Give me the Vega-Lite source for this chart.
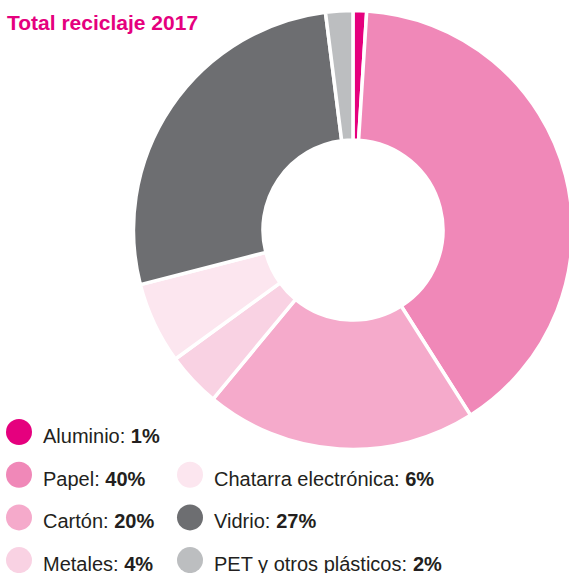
{
  "$schema": "https://vega.github.io/schema/vega-lite/v6.json",
  "width": 569,
  "height": 573,
  "autosize": {"type": "none"},
  "padding": 0,
  "background": "white",
  "title": {
    "text": "Total reciclaje 2017",
    "anchor": "start",
    "frame": "group",
    "baseline": "alphabetic",
    "font": "'Liberation Sans', Arial, sans-serif",
    "fontSize": 21,
    "fontWeight": "bold",
    "color": "#e5007e",
    "dx": 7,
    "dy": 23,
    "offset": -28
  },
  "config": {"view": {"stroke": null}},
  "data": {
    "values": [
      {"cat": "Aluminio", "pct": 1, "ord": 1, "col": 0, "row": 0},
      {"cat": "Papel", "pct": 40, "ord": 2, "col": 0, "row": 1},
      {"cat": "Cartón", "pct": 20, "ord": 3, "col": 0, "row": 2},
      {"cat": "Metales", "pct": 4, "ord": 4, "col": 0, "row": 3},
      {"cat": "Chatarra electrónica", "pct": 6, "ord": 5, "col": 1, "row": 1},
      {"cat": "Vidrio", "pct": 27, "ord": 6, "col": 1, "row": 2},
      {"cat": "PET y otros plásticos", "pct": 2, "ord": 7, "col": 1, "row": 3}
    ]
  },
  "transform": [
    {"calculate": "datum.cat + ': '", "as": "label"},
    {"calculate": "datum.pct + '%'", "as": "val"},
    {"calculate": "(556*length(datum.label) - 334*(length(datum.label)-length(replace(datum.label, regexp('[ijlí]','g'), ''))) - 278*(length(datum.label)-length(replace(datum.label, regexp('[tf: ]','g'), ''))) - 223*(length(datum.label)-length(replace(datum.label, regexp('r','g'), ''))) - 56*(length(datum.label)-length(replace(datum.label, regexp('[cksvyxz]','g'), ''))) + 55*(length(datum.label)-length(replace(datum.label, regexp('T','g'), ''))) + 111*(length(datum.label)-length(replace(datum.label, regexp('[APEVBKSX]','g'), ''))) + 166*(length(datum.label)-length(replace(datum.label, regexp('[CDHNRUw]','g'), ''))) + 277*(length(datum.label)-length(replace(datum.label, regexp('[Mm]','g'), ''))))*20/1000", "as": "lw"},
    {"calculate": "datum.col + (24 + datum.lw)/171", "as": "vx"}
  ],
  "layer": [
    {
      "mark": {"type": "arc", "outerRadius": 219.5, "innerRadius": 90, "stroke": "white", "strokeWidth": 3.5},
      "encoding": {
        "theta": {"field": "pct", "type": "quantitative", "stack": true},
        "order": {"field": "ord", "type": "quantitative"},
        "color": {"field": "cat", "type": "nominal", "legend": null,
          "scale": {"domain": ["Aluminio", "Papel", "Cartón", "Metales", "Chatarra electrónica", "Vidrio", "PET y otros plásticos"],
                    "range": ["#e5007e", "#f088b8", "#f5aacb", "#f9d2e3", "#fce6ef", "#6d6e71", "#bcbec0"]}},
        "x": {"datum": 1.953, "type": "quantitative", "axis": null, "scale": {"domain": [-0.1111, 3.2164], "nice": false, "zero": false}},
        "y": {"datum": -4.731, "type": "quantitative", "axis": null, "scale": {"domain": [-10.117, 3.302], "nice": false, "zero": false, "reverse": true}}
      }
    },
    {
      "mark": {"type": "point", "filled": true, "opacity": 1, "size": 676, "shape": "circle", "strokeWidth": 0},
      "encoding": {
        "x": {"field": "col", "type": "quantitative", "axis": null, "scale": {"domain": [-0.1111, 3.2164], "nice": false, "zero": false}},
        "y": {"field": "row", "type": "quantitative", "axis": null, "scale": {"domain": [-10.117, 3.302], "nice": false, "zero": false, "reverse": true}},
        "color": {"field": "cat", "type": "nominal", "legend": null}
      }
    },
    {
      "mark": {"type": "text", "align": "left", "baseline": "alphabetic", "dx": 24, "dy": 11, "font": "'Liberation Sans', Arial, sans-serif", "fontSize": 20, "color": "#231f20"},
      "encoding": {
        "x": {"field": "col", "type": "quantitative", "axis": null},
        "y": {"field": "row", "type": "quantitative", "axis": null},
        "text": {"field": "label"}
      }
    },
    {
      "mark": {"type": "text", "align": "left", "baseline": "alphabetic", "dy": 11, "font": "'Liberation Sans', Arial, sans-serif", "fontSize": 20, "fontWeight": "bold", "color": "#231f20"},
      "encoding": {
        "x": {"field": "vx", "type": "quantitative", "axis": null},
        "y": {"field": "row", "type": "quantitative", "axis": null},
        "text": {"field": "val"}
      }
    }
  ]
}
